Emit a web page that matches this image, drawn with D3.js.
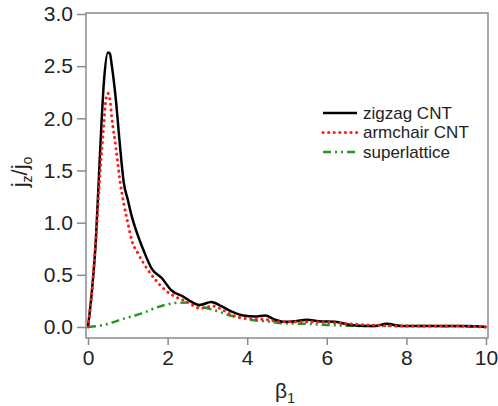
<!DOCTYPE html>
<html>
<head>
<meta charset="utf-8">
<script src="https://cdn.jsdelivr.net/npm/d3@7"></script>
<style>
  body { margin: 0; background: #fff; }
  text { font-family: "Liberation Sans", Arial, sans-serif; fill: #222; }
</style>
</head>
<body>
<div id="chart"></div>
<script>
// beta_1 samples and j_z/j_o values
const zigzagBeta = [0, 0.1, 0.2, 0.3, 0.4, 0.5, 0.55, 0.6, 0.7, 0.8, 0.9, 1.0, 1.1, 1.25, 1.4, 1.6, 1.85, 2.1, 2.4, 2.6, 2.8, 3.1, 3.35, 3.6, 3.9, 4.2, 4.45, 4.7, 4.9, 5.2, 5.5, 5.8, 6.2, 6.6, 7.0, 7.2, 7.5, 7.9, 8.5, 9.0, 9.5, 10];
const zigzagVal = [0, 0.35, 0.85, 1.65, 2.35, 2.63, 2.62, 2.5, 2.18, 1.75, 1.38, 1.22, 1.06, 0.88, 0.73, 0.56, 0.47, 0.35, 0.29, 0.24, 0.21, 0.24, 0.2, 0.15, 0.11, 0.1, 0.11, 0.07, 0.05, 0.055, 0.07, 0.055, 0.05, 0.02, 0.01, 0.01, 0.03, 0.01, 0.01, 0.01, 0.01, 0.0];

const armchairBeta = [0, 0.1, 0.2, 0.3, 0.4, 0.45, 0.5, 0.55, 0.6, 0.7, 0.8, 0.9, 1.0, 1.1, 1.25, 1.5, 1.7, 1.95, 2.2, 2.5, 2.8, 3.15, 3.4, 3.65, 4.0, 4.5, 4.8, 5.5, 6.2, 7.0, 8.0, 9.0, 10];
const armchairVal = [0, 0.35, 0.85, 1.45, 1.95, 2.18, 2.24, 2.18, 2.0, 1.72, 1.41, 1.18, 1.0, 0.83, 0.71, 0.55, 0.45, 0.35, 0.29, 0.24, 0.18, 0.2, 0.16, 0.11, 0.08, 0.07, 0.05, 0.05, 0.04, 0.02, 0.01, 0.01, 0.0];

const superBeta = [0, 0.4, 0.9, 1.35, 1.75, 2.2, 2.5, 2.8, 3.0, 3.27, 3.57, 4.07, 4.57, 4.9, 5.5, 6.0, 7.0, 8.0, 10];
const superVal = [0, 0.02, 0.08, 0.13, 0.19, 0.23, 0.235, 0.2, 0.18, 0.15, 0.11, 0.07, 0.05, 0.035, 0.03, 0.02, 0.01, 0.01, 0.0];

const xTicks = [0, 2, 4, 6, 8, 10];
const yTicks = [0, 0.5, 1.0, 1.5, 2.0, 2.5, 3.0];

const seriesNames = ['zigzag CNT', 'armchair CNT', 'superlattice'];

const W = 498, H = 406;
const frame = { left: 86, top: 13, right: 488, bottom: 338 };

const svg = d3.select('#chart').append('svg')
  .attr('width', W)
  .attr('height', H);

const x = d3.scaleLinear().domain([0, 10]).range([88, 486]);
const y = d3.scaleLinear().domain([0, 3]).range([327, 14]);

// frame box
svg.append('rect')
  .attr('x', frame.left)
  .attr('y', frame.top)
  .attr('width', frame.right - frame.left)
  .attr('height', frame.bottom - frame.top)
  .attr('fill', 'none')
  .attr('stroke', '#8a8a8a')
  .attr('stroke-width', 1.5);

const xAxis = svg.append('g')
  .attr('transform', `translate(0, ${frame.bottom})`)
  .call(d3.axisBottom(x).tickValues(xTicks).tickSize(7).tickPadding(5).tickFormat(d3.format('d')));
xAxis.select('.domain').remove();

const yAxis = svg.append('g')
  .attr('transform', `translate(${frame.left}, 0)`)
  .call(d3.axisLeft(y).tickValues(yTicks).tickSize(9).tickPadding(4).tickFormat(d3.format('.1f')));
yAxis.select('.domain').remove();

svg.selectAll('.tick line').attr('stroke', '#8a8a8a').attr('stroke-width', 1.5);
svg.selectAll('.tick text')
  .attr('fill', '#222')
  .style('font-family', '"Liberation Sans", Arial, sans-serif')
  .style('font-size', '21px');

// axis titles
const xt = svg.append('text')
  .attr('x', 285)
  .attr('y', 398)
  .attr('text-anchor', 'middle')
  .style('font-size', '21px');
xt.append('tspan').text('β');
xt.append('tspan').attr('dy', 5).style('font-size', '14px').text('1');

const yt = svg.append('text')
  .attr('transform', 'translate(27, 172) rotate(-90)')
  .attr('text-anchor', 'middle')
  .style('font-size', '22px');
yt.append('tspan').text('j');
yt.append('tspan').attr('dy', 5).style('font-size', '14px').text('z');
yt.append('tspan').attr('dy', -5).text('/j');
yt.append('tspan').attr('dy', 5).style('font-size', '14px').text('o');

const line = d3.line()
  .x(d => x(d[0]))
  .y(d => y(d[1]))
  .curve(d3.curveMonotoneX);

const plot = svg.append('g');

plot.append('path')
  .datum(d3.zip(superBeta, superVal))
  .attr('d', line)
  .attr('fill', 'none')
  .attr('stroke', '#229922')
  .attr('stroke-width', 2.5)
  .attr('stroke-dasharray', '8,4,2,4,2,4');

plot.append('path')
  .datum(d3.zip(zigzagBeta, zigzagVal))
  .attr('d', line)
  .attr('fill', 'none')
  .attr('stroke', '#000')
  .attr('stroke-width', 2.5);

plot.append('path')
  .datum(d3.zip(armchairBeta, armchairVal))
  .attr('d', line)
  .attr('fill', 'none')
  .attr('stroke', '#ff1a1a')
  .attr('stroke-width', 3)
  .attr('stroke-linecap', 'round')
  .attr('stroke-dasharray', '0.1,5.5');

// legend
const legendStyles = [
  { stroke: '#000', width: 2.5, dash: null, cap: 'butt' },
  { stroke: '#ff1a1a', width: 3, dash: '0.1,5.5', cap: 'round' },
  { stroke: '#229922', width: 2.5, dash: '8,4,2,4,2,4', cap: 'butt' }
];
const legend = svg.append('g');
seriesNames.forEach((name, i) => {
  const ly = 113 + i * 19.5;
  const st = legendStyles[i];
  legend.append('line')
    .attr('x1', 323).attr('x2', 357)
    .attr('y1', ly).attr('y2', ly)
    .attr('stroke', st.stroke)
    .attr('stroke-width', st.width)
    .attr('stroke-linecap', st.cap)
    .attr('stroke-dasharray', st.dash);
  legend.append('text')
    .attr('x', 363)
    .attr('y', ly + 5.5)
    .style('font-size', '17px')
    .text(name);
});
</script>
</body>
</html>
